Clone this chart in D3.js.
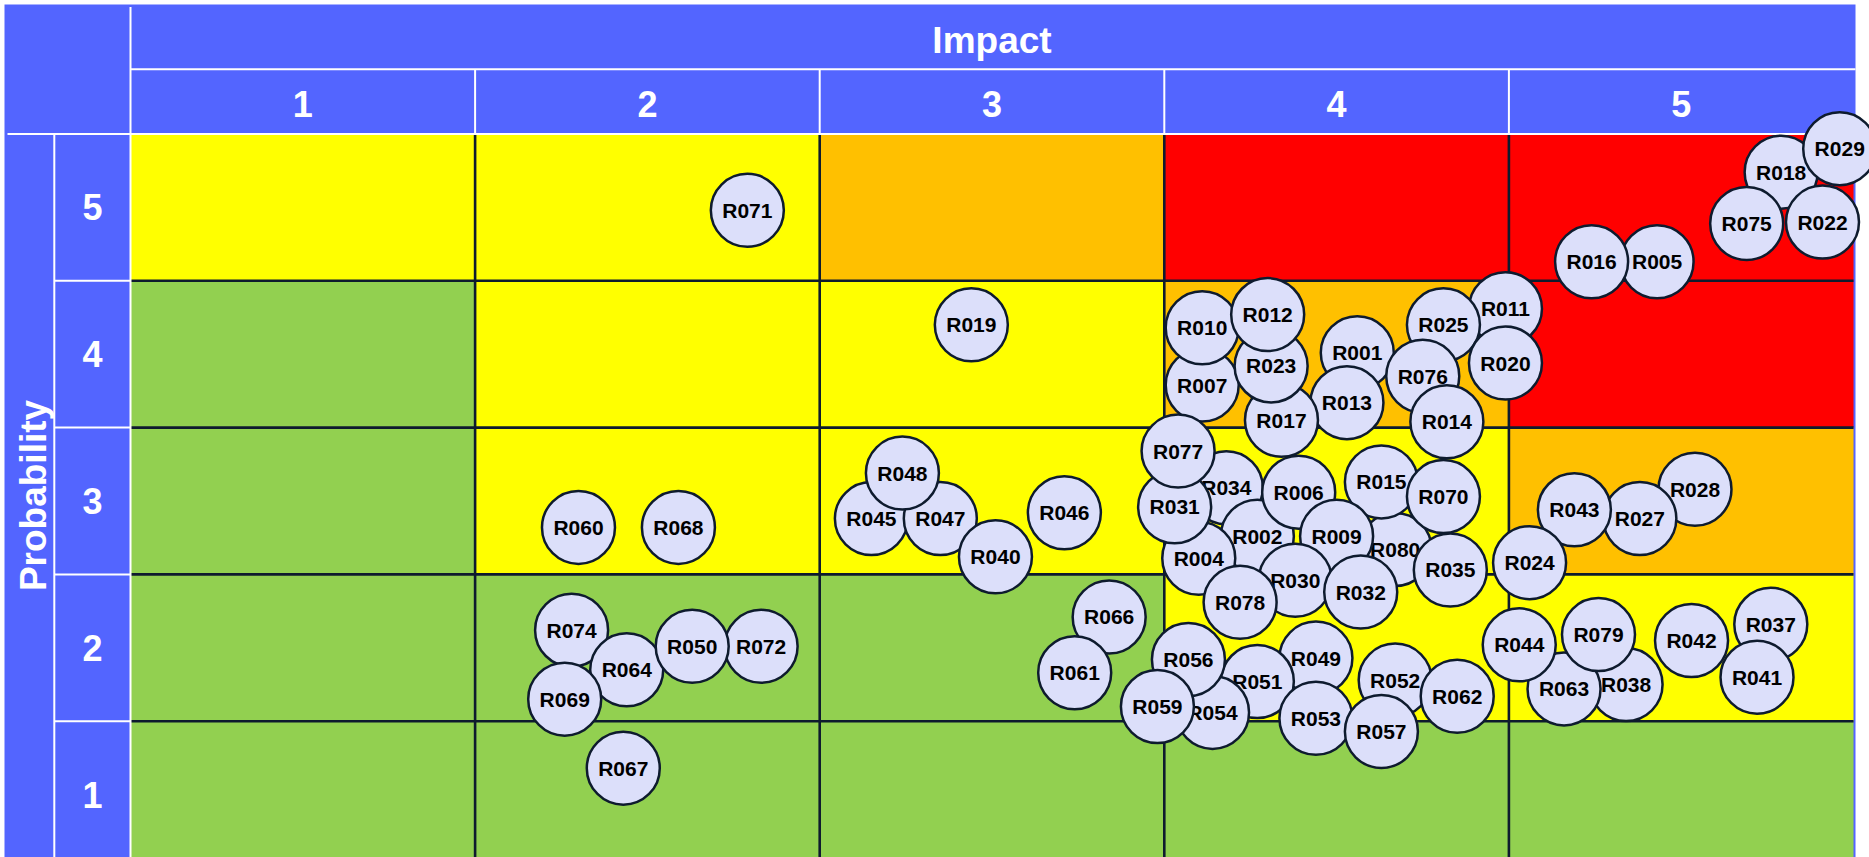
<!DOCTYPE html>
<html>
<head>
<meta charset="utf-8">
<script src="https://cdn.jsdelivr.net/npm/d3@7"></script>
<style>
  body { margin: 0; background: #fff; }
  svg { display: block; font-family: 'Liberation Sans', Arial, sans-serif; }
</style>
</head>
<body>
<div id="chart"></div>
<script>
// ////////////////////////////////////////////////////////////////////////////
// DATA
// ////////////////////////////////////////////////////////////////////////////
const impactLevels = [1, 2, 3, 4, 5];
const probabilityLevels = [5, 4, 3, 2, 1];

// zone of every cell, rows = probability 5..1, cols = impact 1..5
const zoneGrid = [
  ['Y', 'Y', 'O', 'R', 'R'],
  ['G', 'Y', 'Y', 'O', 'R'],
  ['G', 'Y', 'Y', 'Y', 'O'],
  ['G', 'G', 'G', 'Y', 'Y'],
  ['G', 'G', 'G', 'G', 'G'],
];

// risks, in drawing order (later ones sit on top)
const riskIds = [
  'R018', 'R029', 'R075', 'R022', 'R005', 'R016',
  'R011', 'R025', 'R020', 'R001', 'R076', 'R014', 'R013', 'R007', 'R017', 'R023', 'R010', 'R012',
  'R080', 'R015', 'R070', 'R034', 'R002', 'R006', 'R009', 'R035', 'R004', 'R031', 'R077', 'R030', 'R032', 'R078',
  'R028', 'R027', 'R043', 'R024',
  'R037', 'R041', 'R042', 'R038', 'R063', 'R079', 'R044',
  'R052', 'R062', 'R049', 'R051', 'R054', 'R056', 'R059', 'R053', 'R057',
  'R066', 'R061', 'R045', 'R047', 'R040', 'R048', 'R046', 'R060', 'R068', 'R074', 'R064', 'R069', 'R072', 'R050', 'R067', 'R071', 'R019',
];
// impact score (with spread inside the cell)
const riskImpact = [
  5.29, 5.46, 5.19, 5.41, 4.93, 4.74,
  4.49, 4.31, 4.49, 4.06, 4.25, 4.32, 4.03, 3.61, 3.84, 3.81, 3.61, 3.80,
  4.17, 4.13, 4.31, 3.68, 3.77, 3.89, 4.00, 4.33, 3.60, 3.53, 3.54, 3.88, 4.07, 3.72,
  5.04, 4.88, 4.69, 4.56,
  5.26, 5.22, 5.03, 4.84, 4.66, 4.76, 4.53,
  4.17, 4.35, 3.94, 3.77, 3.64, 3.57, 3.48, 3.94, 4.13,
  3.34, 3.24, 2.65, 2.85, 3.01, 2.74, 3.21, 1.80, 2.09, 1.78, 1.94, 1.76, 2.33, 2.13, 1.93, 2.29, 2.94,
];
// probability score (with spread inside the cell)
const riskProbability = [
  5.24, 5.40, 4.89, 4.90, 4.63, 4.63,
  4.31, 4.20, 3.94, 4.01, 3.85, 3.54, 3.67, 3.79, 3.55, 3.92, 4.18, 4.27,
  2.67, 3.13, 3.03, 3.09, 2.76, 3.06, 2.76, 2.53, 2.61, 2.96, 3.34, 2.46, 2.38, 2.31,
  3.08, 2.88, 2.94, 2.58,
  2.16, 1.80, 2.05, 1.75, 1.72, 2.09, 2.02,
  1.78, 1.67, 1.93, 1.77, 1.56, 1.92, 1.60, 1.52, 1.43,
  2.21, 1.83, 2.88, 2.88, 2.62, 3.19, 2.92, 2.82, 2.82, 2.12, 1.85, 1.65, 2.01, 2.01, 1.18, 4.98, 4.20,
];

// ////////////////////////////////////////////////////////////////////////////
// SETUP
// ////////////////////////////////////////////////////////////////////////////
const zoneColor = d3.scaleOrdinal()
  .domain(['G', 'Y', 'O', 'R'])
  .range(['#92D050', '#FFFF00', '#FFC000', '#FF0000']);

const headerBlue = '#5365FF';
const lineDark = '#0E1B2E';

const W = 1869;
const H = 857;

const outer = { left: 4.5, top: 4.5, right: 1855.5 };
const grid = { left: 130.5, right: 1853.5, top: 134, rowH: 146.8 };
const labelColRight = 54.3;
const impactRowBottom = 69.3;

const svg = d3.select('#chart').append('svg')
  .attr('width', W)
  .attr('height', H);

const x = d3.scaleBand()
  .domain(impactLevels)
  .range([grid.left, grid.right]);

const y = d3.scaleBand()
  .domain(probabilityLevels)
  .range([grid.top, grid.top + grid.rowH * probabilityLevels.length]);

// continuous scales for placing the risk bubbles
const xPos = d3.scaleLinear().domain([0.5, 5.5]).range(x.range());
const yPos = d3.scaleLinear().domain([5.5, 0.5]).range(y.range());

const gridBottom = y.range()[1];

// ////////////////////////////////////////////////////////////////////////////
// BLUE FRAME + HEADERS
// ////////////////////////////////////////////////////////////////////////////
svg.append('rect')
  .attr('x', outer.left)
  .attr('y', outer.top)
  .attr('width', outer.right - outer.left)
  .attr('height', H)
  .attr('fill', headerBlue);

// ////////////////////////////////////////////////////////////////////////////
// CELLS
// ////////////////////////////////////////////////////////////////////////////
const cells = [];
probabilityLevels.forEach((p, ri) => {
  impactLevels.forEach((imp, ci) => {
    cells.push({ p, imp, zone: zoneGrid[ri][ci] });
  });
});

svg.append('g').selectAll('.cell')
  .data(cells)
  .enter().append('rect')
    .attr('class', 'cell')
    .attr('x', d => x(d.imp))
    .attr('y', d => y(d.p))
    .attr('width', x.bandwidth())
    .attr('height', y.bandwidth())
    .attr('fill', d => zoneColor(d.zone));

// dark grid lines
const gl = svg.append('g')
  .attr('stroke', lineDark)
  .attr('stroke-width', 2.6);

gl.selectAll('.vline')
  .data(impactLevels.slice(1))
  .enter().append('line')
    .attr('x1', d => x(d)).attr('x2', d => x(d))
    .attr('y1', grid.top).attr('y2', gridBottom);

gl.selectAll('.hline')
  .data(probabilityLevels.slice(1))
  .enter().append('line')
    .attr('x1', grid.left).attr('x2', grid.right)
    .attr('y1', d => y(d)).attr('y2', d => y(d));

// white header lines
const wl = svg.append('g')
  .attr('stroke', '#fff')
  .attr('stroke-width', 2);

wl.append('line')
  .attr('x1', grid.left).attr('x2', grid.left)
  .attr('y1', outer.top + 2.5).attr('y2', H);
wl.append('line')
  .attr('x1', outer.left + 3).attr('x2', outer.right)
  .attr('y1', grid.top).attr('y2', grid.top);
wl.append('line')
  .attr('x1', grid.left).attr('x2', outer.right)
  .attr('y1', impactRowBottom).attr('y2', impactRowBottom);
wl.append('line')
  .attr('x1', labelColRight).attr('x2', labelColRight)
  .attr('y1', grid.top).attr('y2', H);

wl.selectAll('.hsep')
  .data(impactLevels.slice(1))
  .enter().append('line')
    .attr('x1', d => x(d)).attr('x2', d => x(d))
    .attr('y1', impactRowBottom).attr('y2', grid.top);

wl.selectAll('.vsep')
  .data(probabilityLevels.slice(1))
  .enter().append('line')
    .attr('x1', labelColRight).attr('x2', grid.left)
    .attr('y1', d => y(d)).attr('y2', d => y(d));

// header texts
const headerText = svg.append('g')
  .attr('fill', '#fff')
  .attr('font-weight', 'bold')
  .attr('text-anchor', 'middle');

headerText.append('text')
  .attr('x', (grid.left + grid.right) / 2)
  .attr('y', 53)
  .attr('font-size', 37)
  .text('Impact');

headerText.selectAll('.imp-label')
  .data(impactLevels)
  .enter().append('text')
    .attr('x', d => x(d) + x.bandwidth() / 2)
    .attr('y', 117)
    .attr('font-size', 36)
    .text(d => d);

headerText.selectAll('.prob-label')
  .data(probabilityLevels)
  .enter().append('text')
    .attr('x', (labelColRight + grid.left) / 2)
    .attr('y', d => y(d) + y.bandwidth() / 2 + 13)
    .attr('font-size', 36)
    .text(d => d);

headerText.append('text')
  .attr('transform', `translate(45.5, ${(grid.top + H) / 2}) rotate(-90)`)
  .attr('font-size', 37)
  .text('Probability');

// ////////////////////////////////////////////////////////////////////////////
// RISK BUBBLES
// ////////////////////////////////////////////////////////////////////////////
const risks = riskIds.map((id, i) => ({
  id,
  impact: riskImpact[i],
  probability: riskProbability[i],
}));

const bubbles = svg.append('g').selectAll('.risk')
  .data(risks)
  .enter().append('g')
    .attr('class', 'risk')
    .attr('transform', d => `translate(${xPos(d.impact)}, ${yPos(d.probability)})`);

bubbles.append('circle')
  .attr('r', 36.5)
  .attr('fill', '#DCDFFA')
  .attr('stroke', lineDark)
  .attr('stroke-width', 2.5);

bubbles.append('text')
  .attr('y', 7.5)
  .attr('text-anchor', 'middle')
  .attr('font-size', 21)
  .attr('font-weight', 'bold')
  .attr('fill', '#000')
  .text(d => d.id);
</script>
</body>
</html>
